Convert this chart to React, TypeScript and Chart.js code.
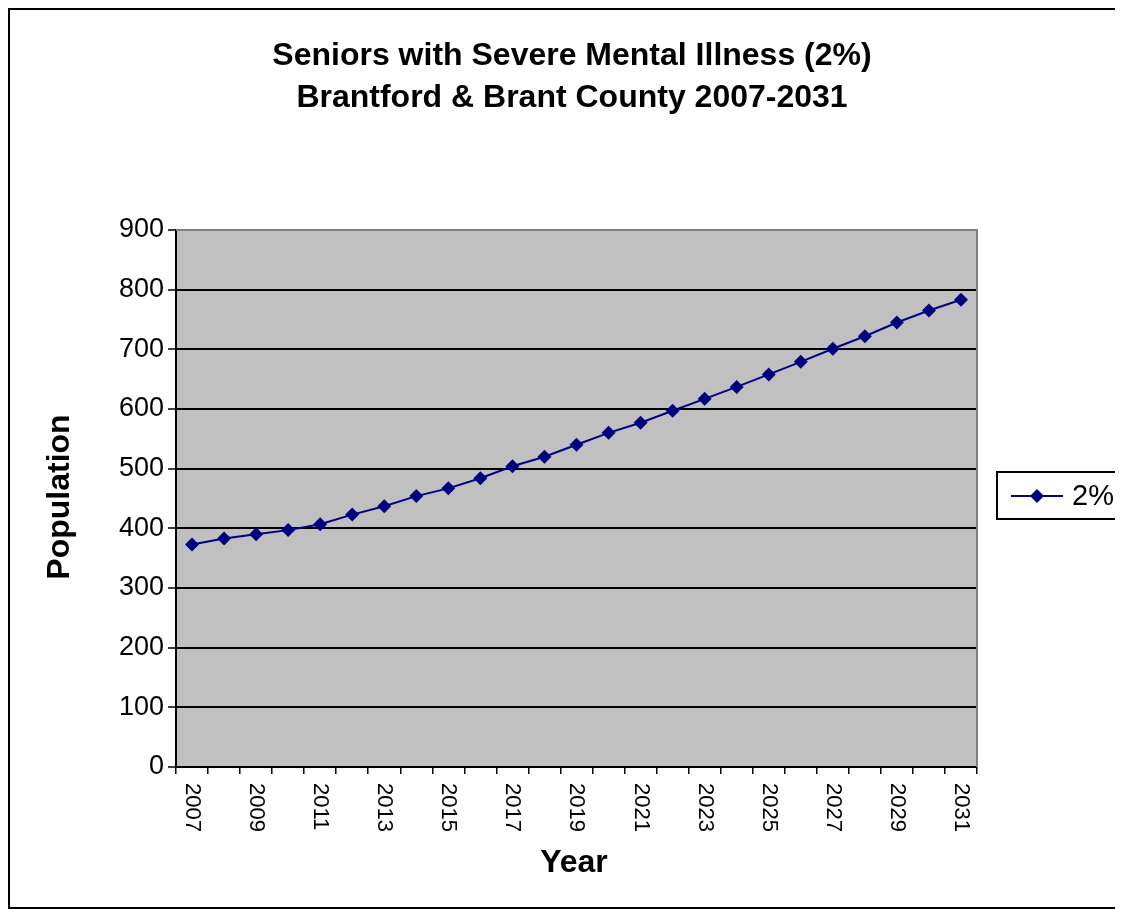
import React, { useEffect, useRef } from "react";
import { Chart, registerables } from "chart.js";

Chart.register(...registerables);

// Projection years and seniors with severe mental illness (2% of seniors)
const years: string[] = [
  "2007", "2008", "2009", "2010", "2011", "2012", "2013", "2014", "2015",
  "2016", "2017", "2018", "2019", "2020", "2021", "2022", "2023", "2024",
  "2025", "2026", "2027", "2028", "2029", "2030", "2031",
];
const population: number[] = [
  373, 383, 390, 397, 407, 423, 437, 454, 467, 484, 504, 520, 540, 560,
  577, 597, 617, 637, 658, 679, 701, 722, 745, 765, 783,
];
const titleLines: string[] = [
  "Seniors with Severe Mental Illness (2%)",
  "Brantford & Brant County 2007-2031",
];
const seriesLabel = "2%";
const xTitle = "Year";
const yTitle = "Population";

const FONT = "'Liberation Sans', Arial, Helvetica, sans-serif";
const NAVY = "#000080";
const W = 1115;
const H = 901;

const decor = {
  id: "decor",
  beforeDraw(chart: any) {
    const { ctx, chartArea: a } = chart;
    ctx.save();
    ctx.fillStyle = "#ffffff";
    ctx.fillRect(0, 0, W, H);
    ctx.fillStyle = "#c0c0c0";
    ctx.fillRect(a.left, a.top, a.right - a.left, a.bottom - a.top);
    ctx.restore();
  },
  beforeDatasetsDraw(chart: any) {
    const { ctx, chartArea: a } = chart;
    ctx.save();
    ctx.strokeStyle = "#808080";
    ctx.lineWidth = 2;
    ctx.beginPath();
    ctx.moveTo(a.left, a.top);
    ctx.lineTo(a.right, a.top);
    ctx.lineTo(a.right, a.bottom);
    ctx.stroke();
    ctx.restore();
  },
  afterDraw(chart: any) {
    const { ctx, chartArea: a } = chart;
    const xs = chart.scales.x;
    ctx.save();
    // outer frame
    ctx.strokeStyle = "#000";
    ctx.lineWidth = 2;
    ctx.strokeRect(1, 1, W + 20, H - 2);

    // title
    ctx.fillStyle = "#000";
    ctx.font = `bold 32px ${FONT}`;
    ctx.textAlign = "center";
    ctx.textBaseline = "middle";
    ctx.fillText(titleLines[0], 564, 48);
    ctx.fillText(titleLines[1], 564, 90);

    // axis titles
    ctx.fillText(xTitle, 566, 855);
    ctx.save();
    ctx.translate(52, 489);
    ctx.rotate(-Math.PI / 2);
    ctx.fillText(yTitle, 0, 0);
    ctx.restore();

    // x tick labels, every second year, reading downward
    ctx.font = `22px ${FONT}`;
    ctx.textAlign = "left";
    ctx.textBaseline = "middle";
    years.forEach((y, i) => {
      if (i % 2 !== 0) return;
      const px = xs.getPixelForValue(i);
      ctx.save();
      ctx.translate(px, a.bottom + 16);
      ctx.rotate(Math.PI / 2);
      ctx.fillText(y, 0, 0);
      ctx.restore();
    });

    // legend
    const lx = 989;
    const ly = 464;
    ctx.fillStyle = "#fff";
    ctx.fillRect(lx, ly, 140, 47);
    ctx.strokeStyle = "#000";
    ctx.lineWidth = 2;
    ctx.strokeRect(lx, ly, 140, 47);
    ctx.strokeStyle = NAVY;
    ctx.lineWidth = 2;
    ctx.beginPath();
    ctx.moveTo(lx + 14, ly + 24);
    ctx.lineTo(lx + 66, ly + 24);
    ctx.stroke();
    ctx.fillStyle = NAVY;
    ctx.beginPath();
    ctx.moveTo(lx + 40, ly + 17);
    ctx.lineTo(lx + 47, ly + 24);
    ctx.lineTo(lx + 40, ly + 31);
    ctx.lineTo(lx + 33, ly + 24);
    ctx.closePath();
    ctx.fill();
    ctx.fillStyle = "#000";
    ctx.font = `29px ${FONT}`;
    ctx.textAlign = "left";
    ctx.textBaseline = "middle";
    ctx.fillText(seriesLabel, lx + 75, ly + 25);
    ctx.restore();
  },
};

export default function App() {
  const ref = useRef<HTMLCanvasElement | null>(null);

  useEffect(() => {
    document.documentElement.style.overflow = "hidden";
    document.body.style.overflow = "hidden";
    const canvas = ref.current;
    if (!canvas) return;
    const chart = new Chart(canvas, {
      type: "line",
      data: {
        labels: years,
        datasets: [
          {
            label: seriesLabel,
            data: population,
            borderColor: NAVY,
            backgroundColor: NAVY,
            borderWidth: 2,
            pointStyle: "rectRot",
            pointRadius: 7,
            pointBorderWidth: 0,
            pointBackgroundColor: NAVY,
            tension: 0,
          },
        ],
      },
      options: {
        responsive: false,
        animation: false,
        devicePixelRatio: 1,
        layout: { padding: { left: 0, top: 222, right: 146, bottom: 0 } },
        plugins: {
          legend: { display: false },
          title: { display: false },
          tooltip: { enabled: false },
        },
        scales: {
          x: {
            offset: true,
            grid: {
              offset: true,
              drawOnChartArea: false,
              drawTicks: true,
              tickLength: 7,
              color: "#000",
              lineWidth: 1.5,
            },
            border: { display: true, color: "#000", width: 2 },
            ticks: { display: false, autoSkip: false },
            afterFit(scale: any) {
              scale.height = 142;
            },
          },
          y: {
            min: 0,
            max: 900,
            ticks: {
              stepSize: 100,
              color: "#000",
              font: { family: FONT, size: 27 },
              padding: 4,
            },
            grid: {
              color: (c: any) => (c.tick && c.tick.value === 900 ? "#808080" : "#000"),
              lineWidth: 2,
              tickLength: 8,
              tickColor: "#000",
              tickWidth: 1.5,
            },
            border: { display: true, color: "#000", width: 2 },
            afterFit(scale: any) {
              scale.width = 168;
            },
          },
        },
      },
      plugins: [decor],
    });
    return () => chart.destroy();
  }, []);

  return (
    <div style={{ width: W, height: H }}>
      <canvas ref={ref} width={W} height={H} style={{ display: "block" }} />
    </div>
  );
}
